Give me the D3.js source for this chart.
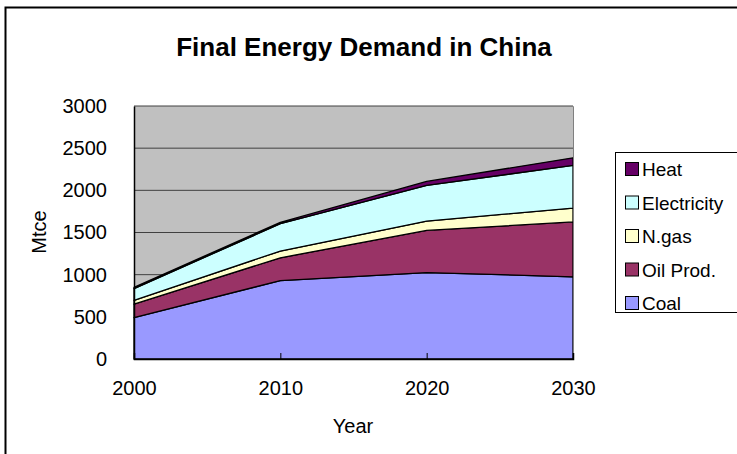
<!DOCTYPE html>
<html>
<head>
<meta charset="utf-8">
<script src="https://cdn.jsdelivr.net/npm/d3@7"></script>
<style>
  html, body { margin: 0; padding: 0; background: #fff; }
  svg { display: block; font-family: "Liberation Sans", Arial, sans-serif; }
</style>
</head>
<body>
<svg id="chart" width="737" height="454"></svg>
<script>
// Final energy demand in China by carrier (Mtce)
const years = [2000, 2010, 2020, 2030];
const coal        = [490, 930, 1025, 975];
const oilProd     = [160, 270, 500, 650];
const naturalGas  = [45, 80, 110, 165];
const electricity = [140, 325, 425, 505];
const heat        = [15, 15, 45, 90];

const seriesNames  = ["Coal", "Oil Prod.", "N.gas", "Electricity", "Heat"];
const seriesColors = ["#9999FF", "#993366", "#FFFFCC", "#CCFFFF", "#660066"];
const yTicks = [0, 500, 1000, 1500, 2000, 2500, 3000];

const rows = years.map((y, i) => ({
  year: y,
  "Coal": coal[i],
  "Oil Prod.": oilProd[i],
  "N.gas": naturalGas[i],
  "Electricity": electricity[i],
  "Heat": heat[i]
}));

const svg = d3.select("#chart");
const plot = { left: 134, right: 573, top: 106, bottom: 359 };

// chart frame
svg.append("rect")
  .attr("x", 5.5).attr("y", 7.5)
  .attr("width", 745).attr("height", 460)
  .attr("fill", "#fff").attr("stroke", "#000").attr("stroke-width", 2);

const x = d3.scaleLinear().domain([2000, 2030]).range([plot.left, plot.right]);
const y = d3.scaleLinear().domain([0, 3000]).range([plot.bottom, plot.top]);

// plot background
svg.append("rect")
  .attr("x", plot.left).attr("y", plot.top)
  .attr("width", plot.right - plot.left).attr("height", plot.bottom - plot.top)
  .attr("fill", "#C0C0C0");

// horizontal gridlines
svg.append("g").selectAll("line")
  .data(yTicks.filter(t => t > 0))
  .join("line")
  .attr("x1", plot.left).attr("x2", plot.right)
  .attr("y1", d => y(d)).attr("y2", d => y(d))
  .attr("stroke", "#404040").attr("stroke-width", 1);

// stacked areas
const stack = d3.stack().keys(seriesNames);
const layers = stack(rows);
const area = d3.area()
  .x(d => x(d.data.year))
  .y0(d => y(d[0]))
  .y1(d => y(d[1]));

svg.append("g").selectAll("path")
  .data(layers)
  .join("path")
  .attr("d", area)
  .attr("fill", (d, i) => seriesColors[i])
  .attr("stroke", "#000")
  .attr("stroke-width", 1.3)
  .attr("stroke-linejoin", "round");

// plot border (top/right grey)
svg.append("path")
  .attr("d", `M${plot.left},${plot.top + 0.5}H${plot.right + 0.5}V${plot.bottom}`)
  .attr("fill", "none").attr("stroke", "#808080").attr("stroke-width", 1);

// y axis
const yAxis = d3.axisLeft(y).tickValues(yTicks).tickFormat(d3.format("d")).tickSize(0).tickPadding(27);
const gy = svg.append("g").attr("transform", `translate(${plot.left},0)`).call(yAxis);
gy.select(".domain").attr("stroke", "#000").attr("stroke-width", 1.5);
gy.selectAll("text").attr("font-size", 20).attr("fill", "#000")
  .attr("font-family", "Liberation Sans, Arial, sans-serif");

// x axis
const xAxis = d3.axisBottom(x).tickValues(years).tickFormat(d3.format("d")).tickSize(-6).tickPadding(22);
const gx = svg.append("g").attr("transform", `translate(0,${plot.bottom})`).call(xAxis);
gx.select(".domain").attr("stroke", "#000").attr("stroke-width", 1.5);
gx.selectAll(".tick line").attr("stroke", "#000");
gx.selectAll("text").attr("font-size", 20).attr("fill", "#000")
  .attr("font-family", "Liberation Sans, Arial, sans-serif");

// title
svg.append("text")
  .attr("x", 364).attr("y", 56)
  .attr("text-anchor", "middle")
  .attr("font-size", 26).attr("font-weight", "bold")
  .text("Final Energy Demand in China");

// axis titles
svg.append("text")
  .attr("x", 353).attr("y", 433)
  .attr("text-anchor", "middle").attr("font-size", 20)
  .text("Year");

svg.append("text")
  .attr("transform", "translate(46,232) rotate(-90)")
  .attr("text-anchor", "middle").attr("font-size", 20)
  .text("Mtce");

// legend, top entry = top layer
const legend = svg.append("g");
legend.append("rect")
  .attr("x", 615.5).attr("y", 152.5)
  .attr("width", 130).attr("height", 160)
  .attr("fill", "#fff").attr("stroke", "#000").attr("stroke-width", 1);

const legendOrder = seriesNames.map((n, i) => ({ name: n, color: seriesColors[i] })).reverse();
const item = legend.selectAll("g.item")
  .data(legendOrder)
  .join("g")
  .attr("class", "item")
  .attr("transform", (d, i) => `translate(625,${169 + i * 33.5})`);
item.append("rect")
  .attr("x", 0.5).attr("y", -6.5)
  .attr("width", 13).attr("height", 13)
  .attr("fill", d => d.color).attr("stroke", "#000").attr("stroke-width", 1);
item.append("text")
  .attr("x", 17).attr("y", 7)
  .attr("font-size", 19)
  .text(d => d.name);
</script>
</body>
</html>
